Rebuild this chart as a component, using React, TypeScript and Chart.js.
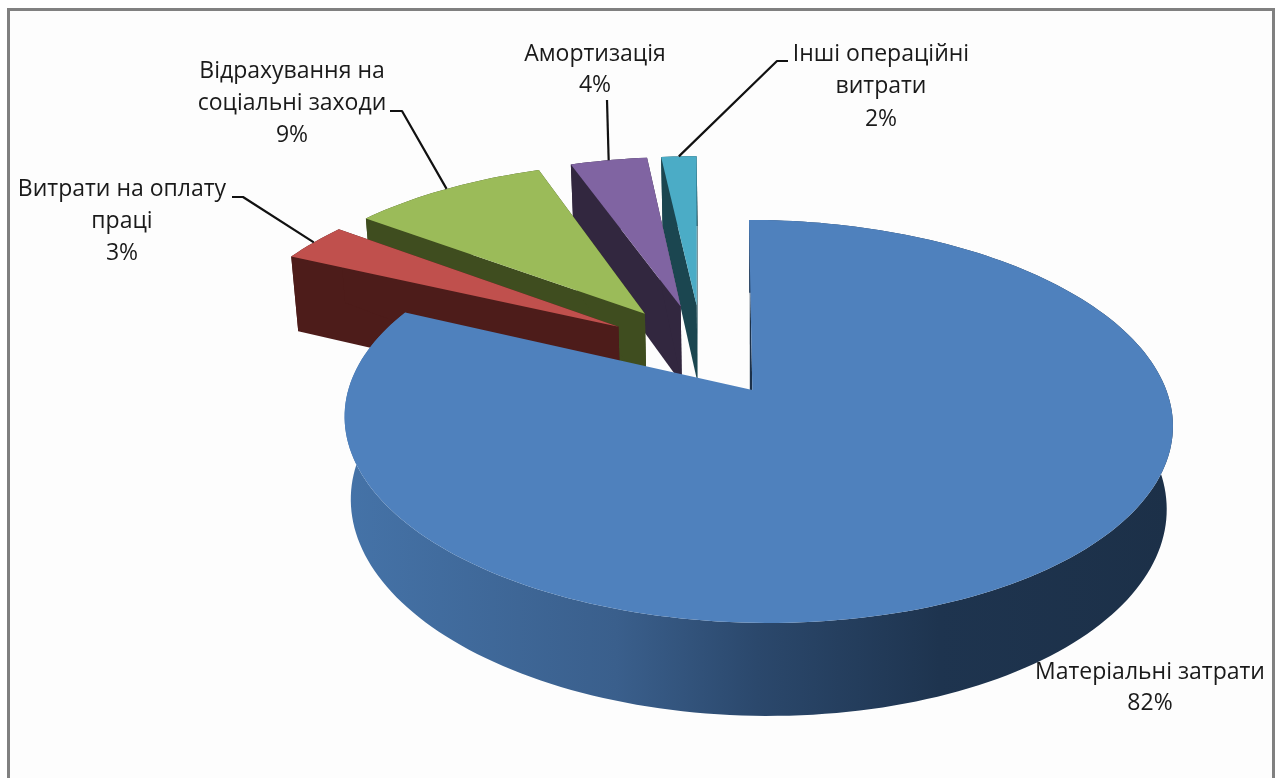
import React, { useEffect, useRef } from "react";
import { Chart, registerables } from "chart.js";

Chart.register(...registerables);

const categoryLines = [
  ["Матеріальні затрати"],
  ["Витрати на оплату", "праці"],
  ["Відрахування на", "соціальні заходи"],
  ["Амортизація"],
  ["Інші операційні", "витрати"],
];
// the printed labels are these values rounded
const shares = [81.9, 3.3, 9.4, 3.7, 1.7];
const topColors = ["#4f81bd", "#c0504d", "#9bbb59", "#8064a2", "#4bacc6"];
const wallColors = ["#1c3048", "#4d1c1a", "#3f4d1f", "#32273f", "#1b4650"];

// layout of the text: centre x, centre y of the first line, line step
const labelBoxes = [
  { x: 1150, y: 672, step: 31 },
  { x: 122, y: 189, step: 32 },
  { x: 292, y: 71, step: 32 },
  { x: 595, y: 54, step: 31 },
  { x: 881, y: 54, step: 32.5 },
];
// leader lines: start, elbow (anchor comes from the slice)
const leaders: (number[][] | null)[] = [
  null,
  [[232, 197], [243, 197]],
  [[390, 111], [402, 111]],
  [[607, 100]],
  [[788, 61], [777, 61]],
];

// perspective view of the pie plane
const VIEW = { x0: 757, y0: 390, k: 0.1563, A: 196.6, B: 409, S: -9.5, D: 81.4, shrink: 0.985 };
const EXPLODE = 0.25;
const CENTRE = { u: -0.134, v: 0.211 };

function project(u: number, v: number, low = false): [number, number] {
  const w = 1 + VIEW.k * v;
  let X = (VIEW.B * u + VIEW.S * v) / w;
  let Y = (-VIEW.A * v) / w;
  if (low) {
    X *= VIEW.shrink;
    Y = Y * VIEW.shrink + VIEW.D / w;
  }
  return [VIEW.x0 + X, VIEW.y0 + Y];
}

function fillPoly(ctx: CanvasRenderingContext2D, pts: [number, number][], fill: any) {
  ctx.beginPath();
  pts.forEach((p, i) => (i ? ctx.lineTo(p[0], p[1]) : ctx.moveTo(p[0], p[1])));
  ctx.closePath();
  ctx.fillStyle = fill;
  ctx.fill();
}

const pie3d = {
  id: "pie3d",
  beforeDatasetsDraw(chart: any) {
    const ctx: CanvasRenderingContext2D = chart.ctx;
    const arcs = chart.getDatasetMeta(0).data;
    ctx.save();

    // frame
    ctx.fillStyle = "#fdfdfd";
    ctx.fillRect(8, 9, 1265, 769);
    ctx.strokeStyle = "#808080";
    ctx.lineWidth = 3;
    ctx.beginPath();
    ctx.moveTo(8.5, 778);
    ctx.lineTo(8.5, 9.5);
    ctx.lineTo(1273.5, 9.5);
    ctx.lineTo(1273.5, 778);
    ctx.stroke();

    const geom = arcs.map((arc: any) => {
      const a0 = arc.startAngle + Math.PI / 2;
      const a1 = arc.endAngle + Math.PI / 2;
      const mid = (a0 + a1) / 2;
      const au = CENTRE.u + EXPLODE * Math.sin(mid);
      const av = CENTRE.v + EXPLODE * Math.cos(mid);
      return { a0, a1, mid, au, av };
    });

    const order = [4, 3, 2, 1, 0];
    order.forEach((i) => {
      const g = geom[i];
      const n = Math.max(6, Math.round((g.a1 - g.a0) * 40));
      const rim: [number, number][] = [];
      const rimLow: [number, number][] = [];
      for (let s = 0; s <= n; s++) {
        const a = g.a0 + ((g.a1 - g.a0) * s) / n;
        const u = g.au + Math.sin(a);
        const v = g.av + Math.cos(a);
        rim.push(project(u, v));
        rimLow.push(project(u, v, true));
      }
      // the large slice's apex sits a little left of its plane centre
      const nudge = i === 0 ? -0.012 : 0;
      const apex = project(g.au + nudge, g.av);
      const apexLow = project(g.au + nudge, g.av, true);

      let wallFill: any = wallColors[i];
      if (i === 0) {
        const grad = ctx.createLinearGradient(343, 0, 1171, 0);
        grad.addColorStop(0, "#4573a8");
        grad.addColorStop(0.33, "#3a5f8c");
        grad.addColorStop(0.5, "#2b486c");
        grad.addColorStop(0.72, "#1e344f");
        grad.addColorStop(1, "#1c3048");
        wallFill = grad;
      }
      fillPoly(ctx, [...rim, ...rimLow.slice().reverse()], wallFill);
      if (i === 0) {
        const e = rim[0];
        const m: [number, number] = [e[0] + (apex[0] - e[0]) * 0.2, e[1] + (apex[1] - e[1]) * 0.2];
        fillPoly(ctx, [m, apex, [apex[0] - 2.5, apex[1]]], wallColors[0]);
      } else {
        fillPoly(ctx, [apex, rim[0], rimLow[0], apexLow], wallColors[i]);
        fillPoly(ctx, [apex, rim[n], rimLow[n], apexLow], wallColors[i]);
      }
      fillPoly(ctx, [apex, ...rim], topColors[i]);
    });

    // leader lines
    ctx.strokeStyle = "#111111";
    ctx.lineWidth = 2.2;
    ctx.lineJoin = "round";
    leaders.forEach((lead, i) => {
      if (!lead) return;
      const g = geom[i];
      const end = project(g.au + Math.sin(g.mid), g.av + Math.cos(g.mid));
      ctx.beginPath();
      lead.forEach((p, j) => (j ? ctx.lineTo(p[0], p[1]) : ctx.moveTo(p[0], p[1])));
      ctx.lineTo(end[0], end[1]);
      ctx.stroke();
    });

    // labels
    ctx.fillStyle = "#1a1a1a";
    ctx.font = '23px "Open Sans", "Noto Sans", sans-serif';
    ctx.textAlign = "center";
    ctx.textBaseline = "middle";
    categoryLines.forEach((lines, i) => {
      const box = labelBoxes[i];
      [...lines, `${Math.round(shares[i])}%`].forEach((t, j) =>
        ctx.fillText(t, box.x, box.y + j * box.step),
      );
    });

    ctx.restore();
    return false;
  },
};

export default function App() {
  const ref = useRef<HTMLCanvasElement | null>(null);
  useEffect(() => {
    const chart = new Chart(ref.current as HTMLCanvasElement, {
      type: "pie",
      data: {
        labels: categoryLines.map((l) => l.join(" ")),
        datasets: [{ data: shares, backgroundColor: topColors, borderWidth: 0 }],
      },
      options: {
        responsive: false,
        animation: false,
        rotation: 0,
        plugins: { legend: { display: false }, tooltip: { enabled: false } },
      },
      plugins: [pie3d],
    } as any);
    return () => chart.destroy();
  }, []);
  return (
    <canvas
      ref={ref}
      width={1278}
      height={778}
      style={{ position: "fixed", left: 0, top: 0, display: "block", background: "#ffffff", filter: "blur(0.5px)" }}
    />
  );
}
